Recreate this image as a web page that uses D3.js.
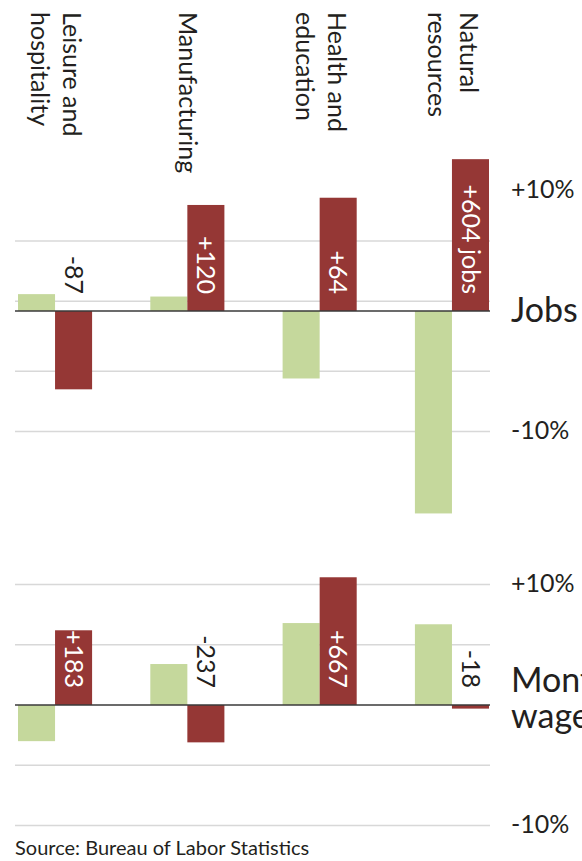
<!DOCTYPE html>
<html>
<head>
<meta charset="utf-8">
<script src="https://cdn.jsdelivr.net/npm/d3@7"></script>
<style>
  body { margin: 0; background: #fff; }
  svg { display: block; font-family: Lato, "Open Sans", sans-serif; }
</style>
</head>
<body>
<div id="chart"></div>
<script>
// categories (line breaks as in the original labels)
const categories = ["Leisure and\nhospitality", "Manufacturing", "Health and\neducation", "Natural\nresources"]

// % change, light green = first series, dark red = second series
const jobsGreen = [1.4, 1.2, -5.6, -16.8]
const jobsRed = [-6.5, 8.8, 9.4, 12.6]
const jobsLabels = ["-87", "+120", "+64", "+604 jobs"]

const wagesGreen = [-3.0, 3.4, 6.8, 6.7]
const wagesRed = [6.2, -3.1, 10.6, -0.3]
const wagesLabels = ["+183", "-237", "+667", "-18"]

const jobsGrid = [5.8, 0.8, -5, -10]
const wagesGrid = [10, 5, -5, -10]
const tickValues = [10, -10]

const width = 582, height = 861
const GREEN = '#c5d89c', RED = '#953735', INK = '#231f20'

const svg = d3.select('#chart').append('svg')
    .attr('width', width)
    .attr('height', height)

const x0 = d3.scaleBand()
    .domain(categories)
    .range([18, 489])
    .paddingInner(0.44)
    .paddingOuter(0)

const x1 = d3.scaleBand()
    .domain(['green', 'red'])
    .range([0, x0.bandwidth()])

// category labels, rotated, reading top to bottom
categories.forEach((c) => {
    const lines = c.split('\n')
    const X = x0(c) + 29 + (lines.length - 1) * 16
    const t = svg.append('g')
        .attr('transform', `translate(${X},12) rotate(90)`)
        .append('text')
        .attr('fill', INK)
        .style('font-size', '25px')
    lines.forEach((l, i) => {
        t.append('tspan')
            .attr('x', 0)
            .attr('dy', i ? 32 : 0)
            .text(l)
    })
})

function panel(y, grid, green, red, labels, title) {
    const g = svg.append('g')

    g.selectAll('line.grid')
        .data(grid)
        .join('line')
        .attr('class', 'grid')
        .attr('x1', 15).attr('x2', 490)
        .attr('y1', d => y(d)).attr('y2', d => y(d))
        .attr('stroke', '#d8d8d8')
        .attr('stroke-width', 1.5)

    const rows = categories.map((c, i) => ({c, green: green[i], red: red[i], label: labels[i]}))

    const groups = g.selectAll('g.cat')
        .data(rows)
        .join('g')
        .attr('class', 'cat')
        .attr('transform', d => `translate(${x0(d.c)},0)`)

    groups.selectAll('rect')
        .data(d => [{k: 'green', v: d.green}, {k: 'red', v: d.red}])
        .join('rect')
        .attr('x', d => x1(d.k))
        .attr('width', x1.bandwidth())
        .attr('y', d => y(Math.max(0, d.v)))
        .attr('height', d => Math.abs(y(d.v) - y(0)))
        .attr('fill', d => d.k === 'green' ? GREEN : RED)

    // zero line
    g.append('line')
        .attr('x1', 15).attr('x2', 490)
        .attr('y1', y(0)).attr('y2', y(0))
        .attr('stroke', '#3a3a3a')
        .attr('stroke-width', 1.5)

    // value labels in the red column
    groups.append('g')
        .attr('transform', `translate(${x1('red') + x1.bandwidth() / 2},${y(0) - 17}) rotate(90)`)
        .append('text')
        .attr('text-anchor', 'end')
        .attr('dy', '0.35em')
        .attr('fill', d => d.red > 0 ? '#fff' : INK)
        .style('font-size', '25px')
        .text(d => d.label)

    // right axis tick labels
    const axis = d3.axisRight(y)
        .tickValues(tickValues)
        .tickSize(0)
        .tickPadding(0)
        .tickFormat(d => (d > 0 ? '+' : '') + d + '%')
    const ax = g.append('g')
        .attr('transform', 'translate(511,0)')
        .call(axis)
    ax.select('.domain').remove()
    ax.selectAll('text')
        .attr('dy', '0.28em')
        .attr('fill', INK)
        .style('font-family', 'Lato, "Open Sans", sans-serif')
        .style('font-size', '25px')

    const tt = g.append('text')
        .attr('x', 511)
        .attr('y', title.y)
        .attr('fill', INK)
        .style('font-size', '34px')
    title.lines.forEach((l, i) => {
        tt.append('tspan').attr('x', 511).attr('dy', i ? 36 : 0).text(l)
    })
}

const yJobs = d3.scaleLinear().domain([-10, 10]).range([431.5, 190.5])
const yWages = d3.scaleLinear().domain([-10, 10]).range([825.5, 584.5])

panel(yJobs, jobsGrid, jobsGreen, jobsRed, jobsLabels, {y: 322, lines: ['Jobs']})
panel(yWages, wagesGrid, wagesGreen, wagesRed, wagesLabels, {y: 692, lines: ['Monthly', 'wages']})

svg.append('text')
    .attr('x', 15)
    .attr('y', 855)
    .attr('fill', INK)
    .style('font-size', '20px')
    .text('Source: Bureau of Labor Statistics')
</script>
</body>
</html>
